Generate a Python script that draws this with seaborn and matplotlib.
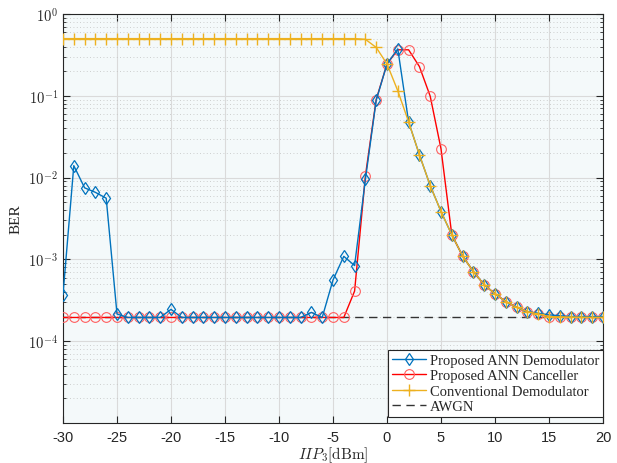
import numpy as np
import pandas as pd
import matplotlib
matplotlib.use("Agg")
import matplotlib.pyplot as plt
import seaborn as sns
from matplotlib.ticker import LogLocator, NullFormatter, FixedLocator, FuncFormatter

iip3 = list(range(-30, 21))

ann_demod = [3.7e-4, 1.4e-2, 7.5e-3, 6.6e-3, 5.6e-3, 2.15e-4,
             1.95e-4, 1.95e-4, 1.95e-4, 1.95e-4, 2.45e-4,
             1.95e-4, 1.95e-4, 1.95e-4, 1.95e-4, 1.95e-4, 1.95e-4,
             1.95e-4, 1.95e-4, 1.95e-4, 1.95e-4, 1.95e-4, 1.95e-4,
             2.25e-4, 1.95e-4, 5.6e-4, 1.09e-3, 8.4e-4, 9.5e-3,
             0.088, 0.245, 0.375, 0.048, 0.019, 8.0e-3, 3.85e-3,
             2.0e-3, 1.1e-3, 7.1e-4, 4.9e-4, 3.8e-4, 3.05e-4, 2.6e-4,
             2.3e-4, 2.2e-4, 2.1e-4, 2.05e-4, 2.0e-4, 2.0e-4, 2.0e-4, 2.0e-4]

ann_cancel = [1.95e-4] * 27 + [4.1e-4, 1.05e-2, 0.09, 0.245, 0.365,
              0.365, 0.228, 0.099, 0.0225, 2.0e-3, 1.1e-3, 7.1e-4,
              4.9e-4, 3.8e-4, 3.05e-4, 2.6e-4, 2.3e-4, 2.15e-4, 2.0e-4,
              1.98e-4, 1.97e-4, 1.96e-4, 1.95e-4, 1.95e-4]

conventional = [0.5] * 28 + [0.49, 0.39, 0.245, 0.115, 0.048, 0.019,
                8.0e-3, 3.85e-3, 2.0e-3, 1.1e-3, 7.1e-4, 4.9e-4, 3.8e-4,
                3.05e-4, 2.6e-4, 2.3e-4, 2.15e-4, 2.0e-4, 1.98e-4,
                1.97e-4, 1.96e-4, 1.95e-4, 1.95e-4]

awgn = [1.95e-4] * len(iip3)

df = pd.DataFrame({"IIP3": iip3, "demod": ann_demod, "cancel": ann_cancel,
                   "conv": conventional, "awgn": awgn})

sns.set_style("ticks")
plt.rcParams["mathtext.fontset"] = "cm"
plt.rcParams["axes.unicode_minus"] = False
plt.rcParams["font.family"] = ["Liberation Sans", "DejaVu Sans"]

fig = plt.figure(figsize=(6.17, 4.64), dpi=100)
ax = fig.add_axes([0.1021, 0.0862, 0.8752, 0.8815])
ax.set_facecolor("#f4f9fa")

sns.lineplot(data=df, x="IIP3", y="awgn", ax=ax, color="#333333", lw=1,
             linestyle=(0, (6, 4)), label="AWGN", zorder=2)
sns.lineplot(data=df, x="IIP3", y="cancel", ax=ax, color="#FF0000", lw=1,
             marker="o", markersize=7, markerfacecolor="none",
             markeredgecolor="#FF6060", markeredgewidth=0.8,
             label="Proposed ANN Canceller", zorder=3)
sns.lineplot(data=df, x="IIP3", y="demod", ax=ax, color="#0072BD", lw=1,
             marker="d", markersize=6.5, markerfacecolor="none",
             markeredgecolor="#0072BD", markeredgewidth=0.9,
             label="Proposed ANN Demodulator", zorder=4)
sns.lineplot(data=df, x="IIP3", y="conv", ax=ax, color="#EDB120", lw=1,
             linestyle="-", marker="+", markersize=8,
             markeredgecolor="#EDB120", markeredgewidth=1,
             label="Conventional Demodulator", zorder=5)

ax.set_yscale("log")
ax.set_xlim(-30, 20)
ax.set_ylim(1e-5, 1)
ax.set_xticks(range(-30, 21, 5))
ax.yaxis.set_major_locator(FixedLocator([1e-4, 1e-3, 1e-2, 1e-1, 1e0]))
ax.yaxis.set_major_formatter(FuncFormatter(
    lambda v, p: r"$\mathsf{10^{%d}}$" % round(np.log10(v))))
ax.yaxis.set_minor_locator(LogLocator(base=10, subs=np.arange(2, 10), numticks=20))
ax.yaxis.set_minor_formatter(NullFormatter())

ax.grid(True, which="major", color="#dadada", lw=0.8)
ax.grid(True, which="minor", axis="y", color="#c0c0c0", lw=0.6, ls=(0, (1, 3)))
ax.set_axisbelow(True)

ax.tick_params(which="both", direction="in", top=True, right=True,
               labelsize=10.5, colors="#262626")
ax.tick_params(axis="x", pad=5)
ax.tick_params(which="major", length=5)
ax.tick_params(which="minor", length=2.5)
for s in ax.spines.values():
    s.set_color("#262626")
    s.set_linewidth(0.8)

ax.set_xlabel(r"$IIP_3\mathrm{[dBm]}$", fontsize=11, color="#262626", labelpad=0.5)
ax.set_ylabel("BER", fontsize=11, family=["Liberation Serif"], color="#262626")

handles, labels = ax.get_legend_handles_labels()
order = [labels.index(n) for n in ["Proposed ANN Demodulator", "Proposed ANN Canceller",
                                   "Conventional Demodulator", "AWGN"]]
leg = ax.legend([handles[i] for i in order], [labels[i] for i in order],
                loc="lower right", bbox_to_anchor=(1.0, 0.015),
                prop={"family": "Liberation Serif", "size": 10.5},
                fancybox=False, edgecolor="#262626", framealpha=1,
                borderpad=0.25, labelspacing=0.15, handlelength=2.3,
                handletextpad=0.3, borderaxespad=0)
leg.get_frame().set_linewidth(0.8)

fig.savefig("out.png", dpi=100)
